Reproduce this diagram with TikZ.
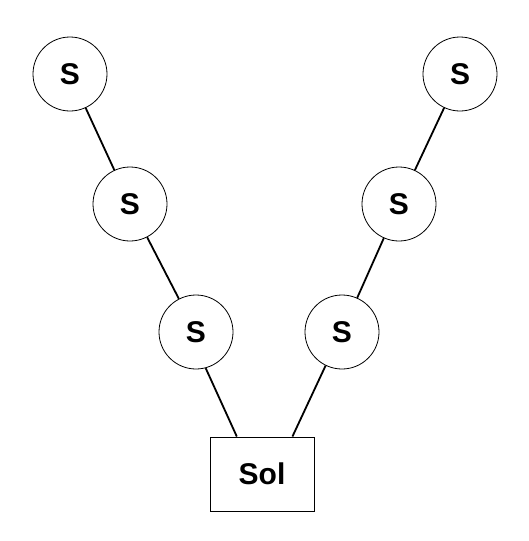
\documentclass[tikz,border=0pt]{standalone}
\usepackage{fontspec}
\setmainfont{Liberation Sans}
\usepackage{tikz}
\usetikzlibrary{calc}

\begin{document}
\begin{tikzpicture}[x=1pt,y=-1pt,
	snode/.style={circle,draw,line width=0.8pt,minimum size=74pt,inner sep=0pt,font=\fontsize{30}{31}\selectfont\bfseries},
	solbox/.style={rectangle,draw,line width=1pt,minimum width=104pt,minimum height=74pt,inner sep=0pt,font=\fontsize{30}{31}\selectfont\bfseries},
	link/.style={line width=1.8pt}]
	\useasboundingbox (0,0) rectangle (528,541);
	% left branch
	\node[snode] (l1) at (70,74) {S};
	\node[snode] (l2) at (130,204) {S};
	\node[snode] (l3) at (196,332) {S};
	% right branch
	\node[snode] (r1) at (460,74) {S};
	\node[snode] (r2) at (399,204) {S};
	\node[snode] (r3) at (342,332) {S};
	\node[solbox] (sol) at (262,474) {Sol};
	\coordinate (solL) at ($(sol.north west)!0.26!(sol.north east)$);
	\coordinate (solR) at ($(sol.north west)!0.79!(sol.north east)$);
	\draw[link] (l1) -- (l2);
	\draw[link] (l2) -- (l3);
	\draw[link] (l3.-75) -- (solL);
	\draw[link] (r1) -- (r2);
	\draw[link] (r2) -- (r3);
	\draw[link] (r3.-116) -- (solR);
\end{tikzpicture}
\end{document}
